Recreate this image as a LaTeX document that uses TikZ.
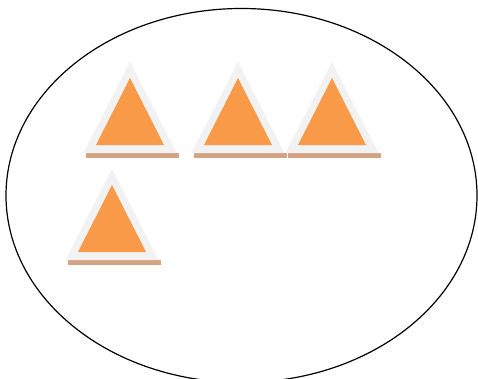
\documentclass[tikz,border=0pt]{standalone}
\definecolor{triorange}{HTML}{F89A48}
\definecolor{trigray}{HTML}{F2F2F2}
\definecolor{trishadow}{HTML}{D4A381}
\tikzset{
  outertri/.style={fill=trigray},
  innertri/.style={fill=triorange},
  shadowstrip/.style={fill=trishadow},
  pics/warn/.style={code={
    \fill[shadowstrip] (-44,-96) rectangle (49,-91);
    \fill[outertri] (0,0) -- (46.5,-91) -- (-46.5,-91) -- cycle;
    \fill[innertri] (0,-16) -- (34,-83) -- (-34,-83) -- cycle;
  }}
}
\begin{document}
\begin{tikzpicture}[x=1pt,y=1pt]
\useasboundingbox (0,0) rectangle (478,378);
\draw[line width=1.2pt] (241.5,182.5) ellipse [x radius=235.5, y radius=187];
\pic at (130,316) {warn};
\pic at (238,316) {warn};
\pic at (332,316) {warn};
\pic at (112,209) {warn};
\end{tikzpicture}
\end{document}
